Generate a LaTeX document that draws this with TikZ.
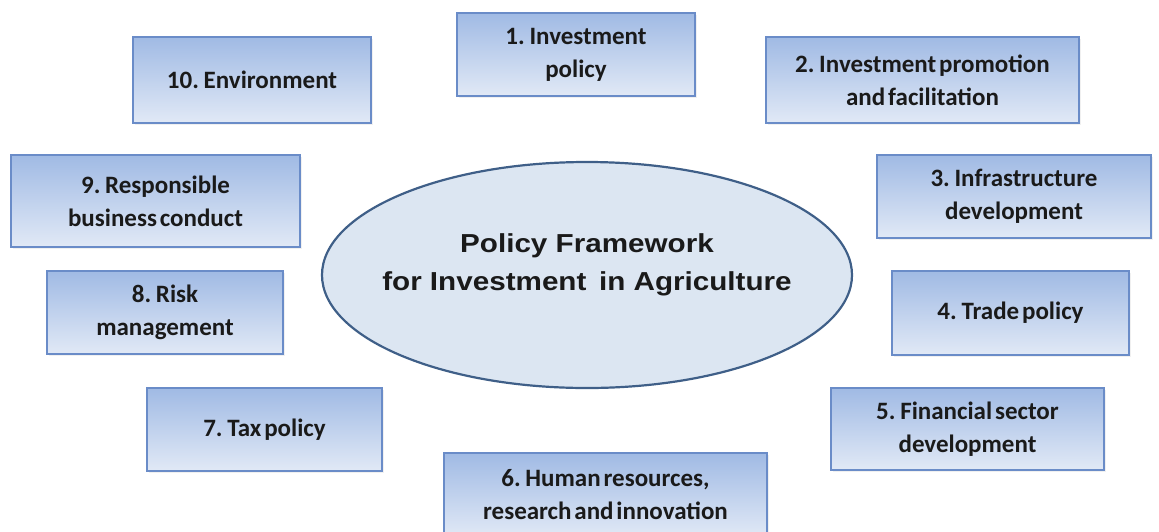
\documentclass[tikz,border=0pt]{standalone}
\usepackage{fontspec}
\setmainfont{Carlito}[WordSpace=0.5]
\newfontfamily\arialfont{Liberation Sans}[FakeStretch=1.14]
\usepackage{tikz}
\usetikzlibrary{shapes.geometric, shadows}

\definecolor{boxtop}{HTML}{A0BAE4}
\definecolor{boxbot}{HTML}{E1E9F6}
\definecolor{boxline}{HTML}{6A8CC8}
\definecolor{ovalfill}{HTML}{DCE6F2}
\definecolor{ovalline}{HTML}{3F5F88}
\definecolor{txt}{HTML}{1A1A1A}

\begin{document}
\begin{tikzpicture}[x=1pt,y=-1pt,
    area/.style={draw=boxline,line width=1.6pt,top color=boxtop,bottom color=boxbot,
      rectangle,inner sep=0pt,align=center,text=txt,
      font=\fontsize{25}{33}\selectfont\bfseries,
      drop shadow={opacity=0.12,shadow xshift=2pt,shadow yshift=-2pt}},
    frame/.style={ellipse,draw=ovalline,line width=2.2pt,fill=ovalfill,inner sep=0pt},
    title/.style={align=center,text=txt,font=\arialfont\fontsize{26}{38}\selectfont\bfseries}]
   \useasboundingbox (0,0) rectangle (1159,531);
   \node[frame,minimum width=530pt,minimum height=226pt] (pfia) at (587,275) {};
   \node[title] (pfialabel) at (587,265) {Policy Framework\\for Investment\, in Agriculture};
   \node[area,minimum width=238pt,minimum height=83pt] (inv)  at (576,54.5) {1. Investment\\policy};
   \node[area,minimum width=313pt,minimum height=86pt] (prom) at (922.5,80) {2. Investment promotion\\and facilitation};
   \node[area,minimum width=274pt,minimum height=83pt] (infr) at (1014,196.5) {3. Infrastructure\\development};
   \node[area,minimum width=237pt,minimum height=84pt] (trad) at (1010.5,313) {4. Trade policy};
   \node[area,minimum width=273pt,minimum height=82pt] (fin)  at (967.5,429) {5. Financial sector\\development};
   \node[area,minimum width=323pt,minimum height=84pt] (hum)  at (605.5,495) {6. Human resources,\\research and innovation};
   \node[area,minimum width=235pt,minimum height=83pt] (tax)  at (264.5,429.5) {7. Tax policy};
   \node[area,minimum width=236pt,minimum height=83pt] (risk) at (165,312.5) {8. Risk\\management};
   \node[area,minimum width=289pt,minimum height=92pt] (resp) at (155.5,201) {9. Responsible\\business conduct};
   \node[area,minimum width=238pt,minimum height=86pt] (env)  at (252,80) {10. Environment};
\end{tikzpicture}
\end{document}
